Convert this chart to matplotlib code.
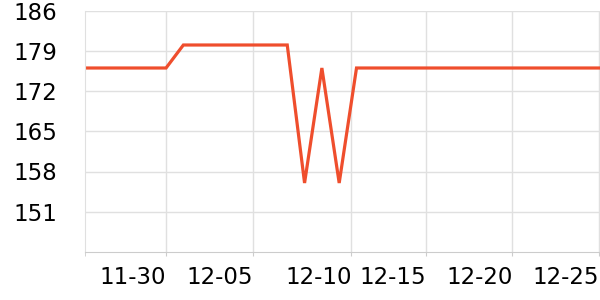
import pandas as pd
import matplotlib.pyplot as plt
import matplotlib.dates as mdates

# Daily values
dates = pd.date_range("2023-11-25", "2023-12-26", freq="D")
values = [176, 176, 176, 176, 176, 176,            # 11-25 .. 11-30
          180, 180, 180, 180, 180, 180, 180,       # 12-01 .. 12-07
          156, 176, 156, 176,                      # 12-08 .. 12-11
          176, 176, 176, 176, 176, 176, 176, 176,  # 12-12 .. 12-19
          176, 176, 176, 176, 176, 176, 176]       # 12-20 .. 12-26

tick_dates = pd.to_datetime(["2023-11-30 00:00", "2023-12-05 00:00", "2023-12-10 17:00",
                             "2023-12-15 00:00", "2023-12-20 00:00", "2023-12-25 00:00"])
tick_labels = ["11-30", "12-05", "12-10", "12-15", "12-20", "12-25"]
y_ticks = [151, 158, 165, 172, 179, 186]

line_color = "#ef4e2d"
grid_color = "#e0e0e0"

x_start = pd.Timestamp("2023-11-25 07:40")
x_end = pd.Timestamp("2023-12-25 01:30")

fig = plt.figure(figsize=(6, 3), dpi=100)
ax = fig.add_axes([85 / 600, 48 / 300, 515 / 600, 241.5 / 300])

ax.plot(dates, values, color=line_color, linewidth=2.3, solid_joinstyle="miter")

ax.set_xlim(x_start, x_end)
ax.set_ylim(144, 186)

ax.set_xticks(tick_dates)
ax.set_xticklabels(tick_labels, ha="right")
ax.set_xticks([mdates.date2num(x_start)], minor=True)
ax.set_yticks(y_ticks)

ax.grid(True, color=grid_color, linewidth=1)
ax.set_axisbelow(True)

for side in ["top", "right"]:
    ax.spines[side].set_visible(False)
ax.spines["left"].set_color(grid_color)
ax.spines["bottom"].set_color("#cccccc")

ax.tick_params(axis="y", length=0, pad=20, labelsize=16.5)
ax.tick_params(axis="x", which="both", length=3, color="#cccccc", pad=7, labelsize=16.5)

fig.savefig("out.png", dpi=100)
